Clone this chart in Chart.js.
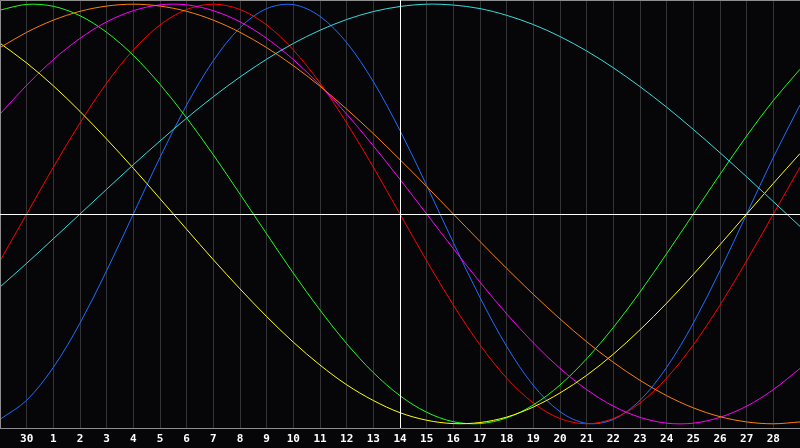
<!DOCTYPE html>
<html>
<head>
<meta charset="utf-8">
<script src="https://cdn.jsdelivr.net/npm/chart.js@4/dist/chart.umd.min.js"></script>
<style>
  html, body { margin: 0; padding: 0; background: #060609; }
  canvas { display: block; }
</style>
</head>
<body>
<canvas id="bio" width="800" height="448"></canvas>
<script>
// day labels along the bottom (first and last slot are unlabelled)
const days = ["", "30", "1", "2", "3", "4", "5", "6", "7", "8", "9", "10", "11", "12", "13",
  "14", "15", "16", "17", "18", "19", "20", "21", "22", "23", "24", "25", "26", "27", "28", ""];

// values, -1 .. 1, one per day slot
const physical = [-0.979, -0.888, -0.731, -0.520, -0.270, 0, 0.270, 0.520, 0.731, 0.888, 0.979, 0.998,
  0.942, 0.817, 0.631, 0.398, 0.136, -0.136, -0.398, -0.631, -0.817, -0.942, -0.998, -0.979, -0.888,
  -0.731, -0.520, -0.270, 0, 0.270, 0.520];
const emotional = [-0.223, 0, 0.223, 0.434, 0.624, 0.782, 0.901, 0.975, 1.0, 0.975, 0.901, 0.782,
  0.624, 0.434, 0.223, 0, -0.223, -0.434, -0.624, -0.782, -0.901, -0.975, -1.0, -0.975, -0.901,
  -0.782, -0.624, -0.434, -0.223, 0, 0.223];
const intellectual = [0.972, 0.999, 0.990, 0.945, 0.866, 0.756, 0.618, 0.458, 0.282, 0.095, -0.095,
  -0.282, -0.458, -0.618, -0.756, -0.866, -0.945, -0.990, -0.999, -0.972, -0.910, -0.815, -0.690,
  -0.541, -0.372, -0.189, 0, 0.189, 0.372, 0.541, 0.690];
const intuitive = [0.476, 0.614, 0.736, 0.837, 0.916, 0.969, 0.997, 0.997, 0.969, 0.916, 0.837, 0.736,
  0.614, 0.476, 0.325, 0.165, 0, -0.165, -0.325, -0.476, -0.614, -0.736, -0.837, -0.916, -0.969,
  -0.997, -0.997, -0.969, -0.916, -0.837, -0.736];
const aesthetic = [0.814, 0.720, 0.611, 0.489, 0.357, 0.218, 0.073, -0.073, -0.218, -0.357, -0.489,
  -0.611, -0.720, -0.814, -0.889, -0.947, -0.983, -0.999, -0.994, -0.968, -0.920, -0.853, -0.769,
  -0.668, -0.552, -0.425, -0.288, -0.146, 0, 0.146, 0.288];
const awareness = [0.793, 0.866, 0.924, 0.966, 0.991, 1.0, 0.991, 0.966, 0.924, 0.866, 0.793, 0.707,
  0.609, 0.5, 0.383, 0.259, 0.131, 0, -0.131, -0.259, -0.383, -0.5, -0.609, -0.707, -0.793, -0.866,
  -0.924, -0.966, -0.991, -1.0, -0.991];
const spiritual = [-0.348, -0.235, -0.118, 0, 0.118, 0.235, 0.348, 0.457, 0.559, 0.653, 0.738, 0.813,
  0.876, 0.927, 0.965, 0.989, 1.0, 0.996, 0.979, 0.947, 0.903, 0.846, 0.777, 0.697, 0.607, 0.509,
  0.403, 0.292, 0.177, 0.059, -0.059];

const todayIndex = 15;

// frame + white cross through "today" and the zero line
const crossPlugin = {
  id: "cross",
  afterDatasetsDraw(chart) {
    const { ctx, chartArea, scales } = chart;
    const x = Math.round(scales.x.getPixelForValue(todayIndex)) + 0.5;
    const y = Math.round(scales.y.getPixelForValue(0)) + 0.5;
    ctx.save();
    ctx.lineWidth = 1;
    ctx.strokeStyle = "#8e8e8e";
    ctx.beginPath();
    ctx.moveTo(chartArea.left + 0.5, chartArea.bottom);
    ctx.lineTo(chartArea.left + 0.5, chartArea.top + 0.5);
    ctx.lineTo(chartArea.right, chartArea.top + 0.5);
    ctx.stroke();
    ctx.strokeStyle = "#ffffff";
    ctx.beginPath();
    ctx.moveTo(chartArea.left, y);
    ctx.lineTo(chartArea.right, y);
    ctx.moveTo(x, chartArea.top);
    ctx.lineTo(x, chartArea.bottom);
    ctx.stroke();
    ctx.restore();
  },
};

function line(data, color) {
  return {
    data: data,
    borderColor: color,
    borderWidth: 1,
    pointRadius: 0,
    pointHoverRadius: 0,
    tension: 0.33,
    fill: false,
  };
}

new Chart(document.getElementById("bio"), {
  type: "line",
  data: {
    labels: days,
    datasets: [
      line(spiritual, "#33dede"),
      line(awareness, "#ff8000"),
      line(aesthetic, "#ffff00"),
      line(intuitive, "#ff00ff"),
      line(intellectual, "#1aff1a"),
      line(emotional, "#ff0000"),
      line(physical, "#1e6eff"),
    ],
  },
  options: {
    responsive: false,
    animation: false,
    layout: { padding: 0, autoPadding: false },
    plugins: {
      legend: { display: false },
      tooltip: { enabled: false },
    },
    scales: {
      x: {
        offset: false,
        afterFit(scale) {
          scale.height = 20;
          scale.paddingLeft = 0;
          scale.paddingRight = 0;
        },
        grid: {
          color: "#333336",
          drawTicks: false,
        },
        border: { color: "#8e8e8e" },
        ticks: {
          autoSkip: false,
          maxRotation: 0,
          padding: 5,
          color: "#ffffff",
          font: { family: "DejaVu Sans Mono", size: 11, weight: "bold" },
        },
      },
      y: {
        display: false,
        min: -1.02,
        max: 1.02,
      },
    },
  },
  plugins: [crossPlugin],
});
</script>
</body>
</html>
